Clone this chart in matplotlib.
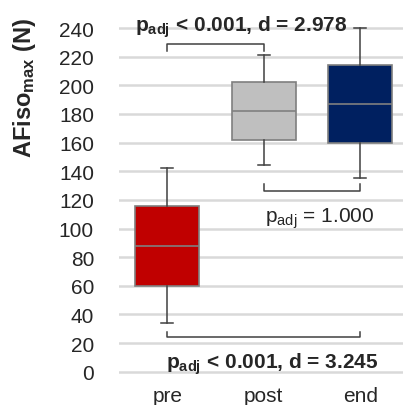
import matplotlib
matplotlib.use("Agg")
import matplotlib.pyplot as plt

plt.rcParams['font.family'] = ['Liberation Sans', 'DejaVu Sans']
plt.rcParams['mathtext.fontset'] = 'custom'
plt.rcParams['mathtext.rm'] = 'Liberation Sans'
plt.rcParams['mathtext.it'] = 'Liberation Sans'
plt.rcParams['mathtext.bf'] = 'Liberation Sans:bold'

categories = ["pre", "post", "end"]
whisker_low = [34, 144, 135]
q1 = [60, 162, 160]
median = [88, 182, 187]
q3 = [116, 202, 214]
whisker_high = [142, 221, 240]
colors = ["#C00000", "#BFBFBF", "#002060"]
yticks = [0, 20, 40, 60, 80, 100, 120, 140, 160, 180, 200, 220, 240]

# comparisons: (from idx, to idx, bar y, leg end y, text, text x, text y, bold)
comparisons = [
    (0, 1, 228.5, 224, r"$\mathbf{p_{adj}}$ < 0.001, d = 2.978", 0.77, 241, True),
    (1, 2, 126, 131, r"$\mathrm{p_{adj}}$ = 1.000", 1.58, 107.5, False),
    (0, 2, 24, 28, r"$\mathbf{p_{adj}}$ < 0.001, d = 3.245", 1.09, 6, True),
]

W, H = 403, 406
fig = plt.figure(figsize=(W / 100, H / 100), dpi=100)
ppu = 1.432
ylo, yhi = -2, 242
bottom_px = 33.3 + ylo * ppu
ax = fig.add_axes([119 / W, bottom_px / H, 289.5 / W, (yhi - ylo) * ppu / H])

stats = []
for i, c in enumerate(categories):
    stats.append(dict(label=c, whislo=whisker_low[i], q1=q1[i], med=median[i],
                      q3=q3[i], whishi=whisker_high[i], fliers=[]))
bp = ax.bxp(stats, positions=range(len(categories)), widths=0.66, patch_artist=True,
            showfliers=False,
            boxprops=dict(edgecolor="#7f7f7f", linewidth=1.2),
            medianprops=dict(color="#808080", linewidth=1.2),
            whiskerprops=dict(color="#404040", linewidth=1.1),
            capprops=dict(color="#404040", linewidth=1.1),
            capwidths=0.12, zorder=3)
for patch, col in zip(bp['boxes'], colors):
    patch.set_facecolor(col)

ax.set_xlim(-0.5, 2.5)
ax.set_ylim(ylo, yhi)
ax.set_yticks(yticks)
ax.set_yticklabels([str(t) for t in yticks], fontsize=15, color="#262626")
ax.set_xticks(range(len(categories)))
ax.set_xticklabels(categories, fontsize=15, color="#262626")
ax.tick_params(length=0, pad=18)
ax.tick_params(axis='x', pad=8)
ax.grid(axis='y', color="#d9d9d9", linewidth=1.8, zorder=0)
ax.set_axisbelow(True)
for s in ax.spines.values():
    s.set_visible(False)

for (a, b, ybar, yleg, txt, tx, ty, bold) in comparisons:
    ax.plot([a, a, b, b], [yleg, ybar, ybar, yleg], color="#404040", linewidth=1.1,
            clip_on=False, zorder=4)
    ax.text(tx, ty, txt, ha='center', va='center', fontsize=15,
            fontweight='bold' if bold else 'normal', color="#262626", clip_on=False)

fig.text(24 / W, 1 - 88 / H, r"AFiso$_{\mathbf{max}}$ (N)", rotation=90, ha='center',
         va='center', fontsize=17, fontweight='bold', color="#262626")

fig.savefig("out.png", dpi=100)
